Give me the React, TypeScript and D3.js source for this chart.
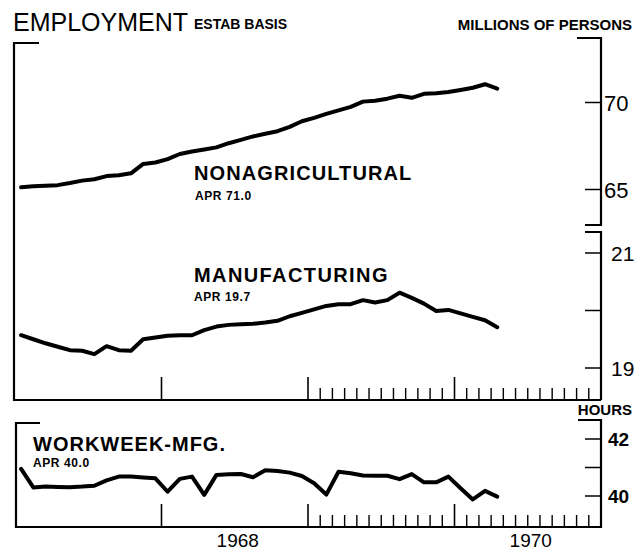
import React from "react";
import * as d3 from "d3";

// Monthly data, Jan 1967 .. Apr 1970
const nonagricultural = [
  65.13, 65.18, 65.21, 65.25, 65.37, 65.51, 65.59, 65.77, 65.82, 65.93, 66.47, 66.55,
  66.75, 67.04, 67.18, 67.3, 67.42, 67.66, 67.85, 68.05, 68.2, 68.35, 68.6, 68.92,
  69.12, 69.35, 69.55, 69.75, 70.05, 70.1, 70.22, 70.39, 70.27, 70.5, 70.53, 70.6,
  70.72, 70.85, 71.05, 70.8,
];
const manufacturing = [
  19.57, 19.5, 19.43, 19.37, 19.31, 19.3, 19.24, 19.38, 19.31, 19.3, 19.5, 19.53,
  19.56, 19.57, 19.57, 19.66, 19.72, 19.75, 19.76, 19.77, 19.79, 19.82, 19.9, 19.96,
  20.02, 20.08, 20.11, 20.11, 20.18, 20.14, 20.18, 20.31, 20.22, 20.12, 19.99, 20.01,
  19.95, 19.89, 19.83, 19.71,
];
const workweek = [
  40.95, 40.3, 40.33, 40.32, 40.31, 40.33, 40.36, 40.55, 40.68, 40.68, 40.65, 40.62,
  40.15, 40.6, 40.68, 40.04, 40.74, 40.76, 40.77, 40.66, 40.9, 40.88, 40.82, 40.7,
  40.45, 40.05, 40.85, 40.8, 40.72, 40.71, 40.71, 40.59, 40.77, 40.48, 40.48, 40.68,
  40.27, 39.88, 40.18, 39.98,
];

const nonagTicks = [65, 70];
const mfgTicks = [19, 20, 21];
const mfgTickLabels = ["19", "", "21"];
const hoursTicks = [40, 41, 42];
const hoursTickLabels = ["40", "", "42"];
const yearStarts = [12, 24, 36]; // month index of Jan 1968, 1969, 1970
const yearLabels = ["1968", "1970"];
const yearLabelMonths = [18, 42];

const FONT = "'Liberation Sans', Arial, sans-serif";

export default function App() {
  const x = d3.scaleLinear().domain([0, 48]).range([15, 601]);
  const yNon = d3.scaleLinear().domain([65, 70]).range([189.5, 102.5]);
  const yMfg = d3.scaleLinear().domain([19, 21]).range([368, 253]);
  const yHrs = d3.scaleLinear().domain([40, 42]).range([496, 439]);

  const mk = (ys: d3.ScaleLinear<number, number>) =>
    d3
      .line<number>()
      .x((_, i) => x(i + 0.5))
      .y((d) => ys(d));

  const axisX = 601;
  const topBottom = 400;
  const wwBottom = 527;

  const smallTicks: number[] = [];
  for (let m = 25; m < 48; m++) if (m !== 36) smallTicks.push(m);

  const lineStyle = {
    fill: "none",
    stroke: "#000",
    strokeWidth: 4,
    strokeLinejoin: "round" as const,
    strokeLinecap: "round" as const,
  };

  const bottomTicks = (base: number) => (
    <g stroke="#000">
      {yearStarts.map((m) => (
        <line key={"y" + m} x1={x(m)} x2={x(m)} y1={base - 23} y2={base} strokeWidth={1.6} />
      ))}
      {smallTicks.map((m) => (
        <line key={"m" + m} x1={x(m)} x2={x(m)} y1={base - 12} y2={base} strokeWidth={1.4} />
      ))}
    </g>
  );

  return (
    <svg
      width={637}
      height={552}
      style={{ position: "absolute", left: 0, top: 0, background: "#fff" }}
      fontFamily={FONT}
    >
      <rect width={637} height={552} fill="#fff" />
      {/* Titles */}
      <text x={13} y={31} fontSize={25} fill="#000" textLength={175} lengthAdjust="spacingAndGlyphs">EMPLOYMENT</text>
      <text x={194} y={29} fontSize={14} fontWeight="bold" fill="#000">ESTAB BASIS</text>
      <text x={632} y={30} fontSize={15} fontWeight="bold" textAnchor="end" fill="#000">
        MILLIONS OF PERSONS
      </text>

      {/* Top panel frame */}
      <g stroke="#000" fill="none">
        <path d={`M39,43 H14 V${topBottom} H${axisX}`} strokeWidth={2.2} />
        <path d={`M577,38 H${axisX} V225 H585`} strokeWidth={2.2} />
        <path d={`M585,232 H${axisX} V${topBottom}`} strokeWidth={2.2} />
      </g>
      {bottomTicks(topBottom)}

      {/* Nonag axis ticks */}
      {nonagTicks.map((t) => (
        <g key={"n" + t}>
          <line x1={585} x2={axisX} y1={yNon(t)} y2={yNon(t)} stroke="#000" strokeWidth={1.5} />
          <text x={604} y={yNon(t) + 8} fontSize={22} fill="#000">{t}</text>
        </g>
      ))}
      {mfgTicks.map((t, i) => (
        <g key={"m" + t}>
          <line x1={585} x2={axisX} y1={yMfg(t)} y2={yMfg(t)} stroke="#000" strokeWidth={1.5} />
          {mfgTickLabels[i] && (
            <text x={611} y={yMfg(t) + 7.5} fontSize={21} fill="#000">{mfgTickLabels[i]}</text>
          )}
        </g>
      ))}

      {/* Data lines */}
      <path d={mk(yNon)(nonagricultural) || ""} {...lineStyle} />
      <path d={mk(yMfg)(manufacturing) || ""} {...lineStyle} />

      <text x={194} y={180} fontSize={20} fontWeight="bold" letterSpacing={1.1} fill="#000">NONAGRICULTURAL</text>
      <text x={195} y={200} fontSize={12} fontWeight="bold" letterSpacing={0.6} fill="#000">APR  71.0</text>
      <text x={194} y={282} fontSize={20} fontWeight="bold" letterSpacing={1.4} fill="#000">MANUFACTURING</text>
      <text x={194} y={301} fontSize={12} fontWeight="bold" letterSpacing={0.6} fill="#000">APR  19.7</text>

      {/* Workweek panel */}
      <text x={632} y={415} fontSize={15} fontWeight="bold" textAnchor="end" fill="#000">HOURS</text>
      <g stroke="#000" fill="none">
        <path d={`M40,423 H16 V${wwBottom} H${axisX} V420 H578`} strokeWidth={2.2} />
      </g>
      {bottomTicks(wwBottom)}
      {hoursTicks.map((t, i) => (
        <g key={"h" + t}>
          <line x1={585} x2={axisX} y1={yHrs(t)} y2={yHrs(t)} stroke="#000" strokeWidth={1.5} />
          {hoursTickLabels[i] && (
            <text x={608} y={yHrs(t) + 7} fontSize={19} fontWeight="bold" fill="#000">{hoursTickLabels[i]}</text>
          )}
        </g>
      ))}
      <path d={mk(yHrs)(workweek) || ""} {...lineStyle} />
      <text x={33} y={451} fontSize={20} fontWeight="bold" letterSpacing={1} fill="#000">WORKWEEK-MFG.</text>
      <text x={33} y={467} fontSize={12} fontWeight="bold" letterSpacing={0.6} fill="#000">APR  40.0</text>

      {/* Year labels */}
      {yearLabels.map((lab, i) => (
        <text key={lab} x={x(yearLabelMonths[i]) + 3} y={547} fontSize={19} textAnchor="middle" fill="#000">
          {lab}
        </text>
      ))}
    </svg>
  );
}
